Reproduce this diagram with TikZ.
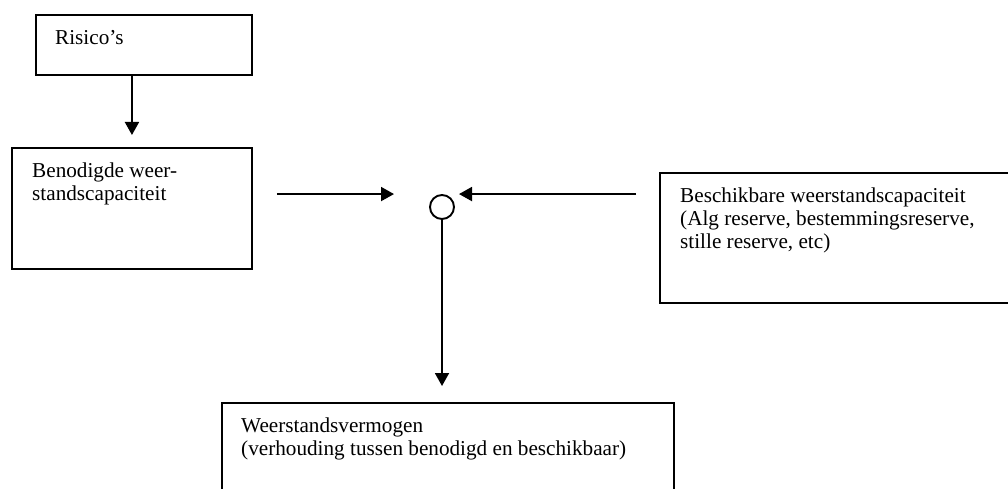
\documentclass[tikz,border=0pt]{standalone}
\usepackage{fontspec}
\setmainfont{Liberation Serif}
\usetikzlibrary{arrows.meta,calc,positioning}

\tikzset{
  blok/.style={draw, rectangle, line width=1.9pt, anchor=north west, inner sep=0pt},
  tekst/.style={anchor=north west, inner sep=0pt, align=left, font=\fontsize{21.2}{23}\selectfont},
  pijl/.style={line width=1.9pt, -{Triangle[length=13pt,width=14pt]}}
}

\begin{document}
\begin{tikzpicture}[x=1pt,y=-1pt]
\useasboundingbox (0,0) rectangle (1008,489);
\clip (0,0) rectangle (1008,489);

% blokken
\node[blok, minimum width=216pt, minimum height=60pt] (risico) at (35,14) {};
\node[tekst] (risicotekst) at ($(risico.north west)+(20,16)$) {Risico’s};

\node[blok, minimum width=240pt, minimum height=121pt] (benodigd) at (11,147) {};
\node[tekst] (benodigdtekst) at ($(benodigd.north west)+(21,16)$) {Benodigde weer-\\standscapaciteit};

\node[blok, minimum width=371pt, minimum height=130pt] (beschikbaar) at (659,172) {};
\node[tekst] (beschikbaartekst) at ($(beschikbaar.north west)+(21,16)$)
  {Beschikbare weerstandscapaciteit\\(Alg reserve, bestemmingsreserve,\\stille reserve, etc)};

\node[blok, minimum width=452pt, minimum height=130pt] (vermogen) at (221,402) {};
\node[tekst] (vermogentekst) at ($(vermogen.north west)+(20,16)$)
  {Weerstandsvermogen\\(verhouding tussen benodigd en beschikbaar)};

\node[draw, circle, line width=1.9pt, minimum size=24pt, inner sep=0pt] (knoop) at (442,207) {};

% pijlen
\draw[pijl, shorten >=12pt] (benodigd.north |- risico.south) -- (benodigd.north);
\draw[pijl, shorten <=24pt, shorten >=48pt] (benodigd.east |- knoop.north) -- (knoop.north);
\draw[pijl, shorten <=23pt, shorten >=17pt] (beschikbaar.west |- knoop.north) -- (knoop.north);
\draw[pijl, shorten >=16pt] (knoop.south) -- (knoop.south |- vermogen.north);
\end{tikzpicture}
\end{document}
